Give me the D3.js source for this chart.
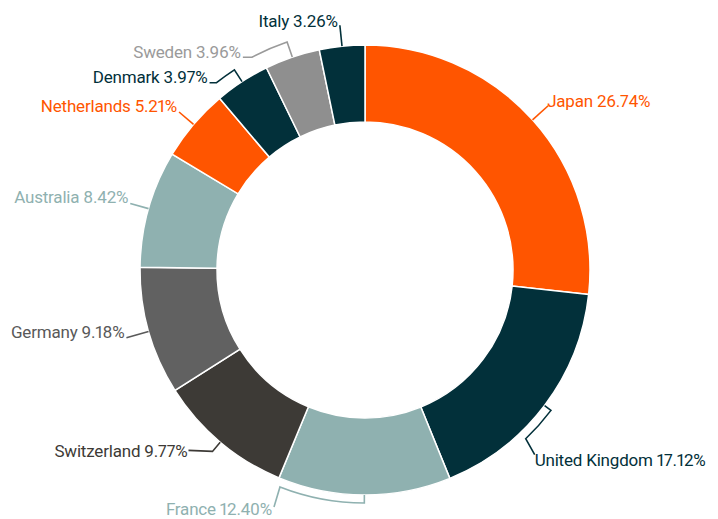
<!DOCTYPE html>
<html>
<head>
<meta charset="utf-8">
<script src="https://cdn.jsdelivr.net/npm/d3@7"></script>
<style>
  body { margin: 0; background: #fff; }
  svg { display: block; }
  text {
    font-family: Roboto, "Noto Sans", sans-serif;
    font-size: 17px;
    letter-spacing: -0.2px;
    font-variant-numeric: proportional-nums;
  }
</style>
</head>
<body>
<svg id="chart" width="718" height="519"></svg>
<script>
// Share of holdings by country (%)
const countries = ["Japan", "United Kingdom", "France", "Switzerland", "Germany",
                   "Australia", "Netherlands", "Denmark", "Sweden", "Italy"];
const shares = [26.74, 17.12, 12.40, 9.77, 9.18, 8.42, 5.21, 3.97, 3.96, 3.26];

const ORANGE = "#ff5500", TEAL = "#02303a", MIST = "#8fb1b0";
const sliceColors = [ORANGE, TEAL, MIST, "#3d3a36", "#616161", MIST, ORANGE, TEAL, "#8f8f8f", TEAL];
const labelColors = [ORANGE, TEAL, MIST, "#3d3a36", "#595959", MIST, ORANGE, TEAL, "#9a9a9a", TEAL];

// Callout geometry: elbow radius, optional arc end angle (deg), final leg offset,
// text anchor and text offset from the end of the leader.
const callouts = [
  { r1: 246, arcTo: null,  leg: [0, 0],    anchor: "start", text: [-1, 1] },
  { r1: 233, arcTo: 136.4, leg: [9, 16],   anchor: "start", text: [0, 11] },
  { r1: 233, arcTo: 201.4, leg: [-6, 20],  anchor: "end",   text: [-2, 8] },
  { r1: 237, arcTo: null,  leg: [-24, -1], anchor: "end",   text: [-1, 7] },
  { r1: 248, arcTo: null,  leg: [0, 0],    anchor: "end",   text: [-2, 0] },
  { r1: 244, arcTo: null,  leg: [0, 0],    anchor: "end",   text: [-2, 0] },
  { r1: 244, arcTo: null,  leg: [0, 0],    anchor: "end",   text: [-2, 0] },
  { r1: 239, arcTo: 321.6, leg: [-7, 0],   anchor: "end",   text: [-2, 0] },
  { r1: 241, arcTo: 332,   leg: [-9, 0],   anchor: "end",   text: [-2, 1] },
  { r1: 246, arcTo: null,  leg: [0, 0],    anchor: "end",   text: [-2, 2] }
];

const data = countries.map((name, i) => ({
  name, share: shares[i], fill: sliceColors[i], ink: labelColors[i], callout: callouts[i]
}));

const svg = d3.select("#chart");
const cx = 365, cy = 270, outerR = 225, innerR = 148;
const g = svg.append("g").attr("transform", `translate(${cx},${cy})`);

const pie = d3.pie().sort(null).value(d => d.share);
const arc = d3.arc().innerRadius(innerR).outerRadius(outerR);
const arcs = pie(data);

g.selectAll("path.slice")
  .data(arcs)
  .join("path")
  .attr("class", "slice")
  .attr("d", arc)
  .attr("fill", d => d.data.fill)
  .attr("stroke", "#fff")
  .attr("stroke-width", 1.5);

const polar = (r, a) => [r * Math.sin(a), -r * Math.cos(a)];
const rad = deg => deg * Math.PI / 180;

arcs.forEach(d => {
  const c = d.data.callout;
  const mid = (d.startAngle + d.endAngle) / 2;
  const p0 = polar(outerR, mid);
  let p = polar(c.r1, mid);
  let path = `M${p0[0]},${p0[1]}L${p[0]},${p[1]}`;
  if (c.arcTo !== null) {
    const a2 = rad(c.arcTo);
    const q = polar(c.r1, a2);
    const sweep = a2 > mid ? 1 : 0;
    path += `A${c.r1},${c.r1} 0 0 ${sweep} ${q[0]},${q[1]}`;
    p = q;
  }
  const end = [p[0] + c.leg[0], p[1] + c.leg[1]];
  if (c.leg[0] !== 0 || c.leg[1] !== 0) path += `L${end[0]},${end[1]}`;

  g.append("path")
    .attr("d", path)
    .attr("fill", "none")
    .attr("stroke", d.data.ink)
    .attr("stroke-width", 1.6)
    .attr("stroke-linejoin", "miter");

  g.append("text")
    .attr("x", end[0] + c.text[0])
    .attr("y", end[1] + c.text[1])
    .attr("text-anchor", c.anchor)
    .attr("fill", d.data.ink)
    .text(`${d.data.name} ${d3.format(".2f")(d.data.share)}%`);
});
</script>
</body>
</html>
